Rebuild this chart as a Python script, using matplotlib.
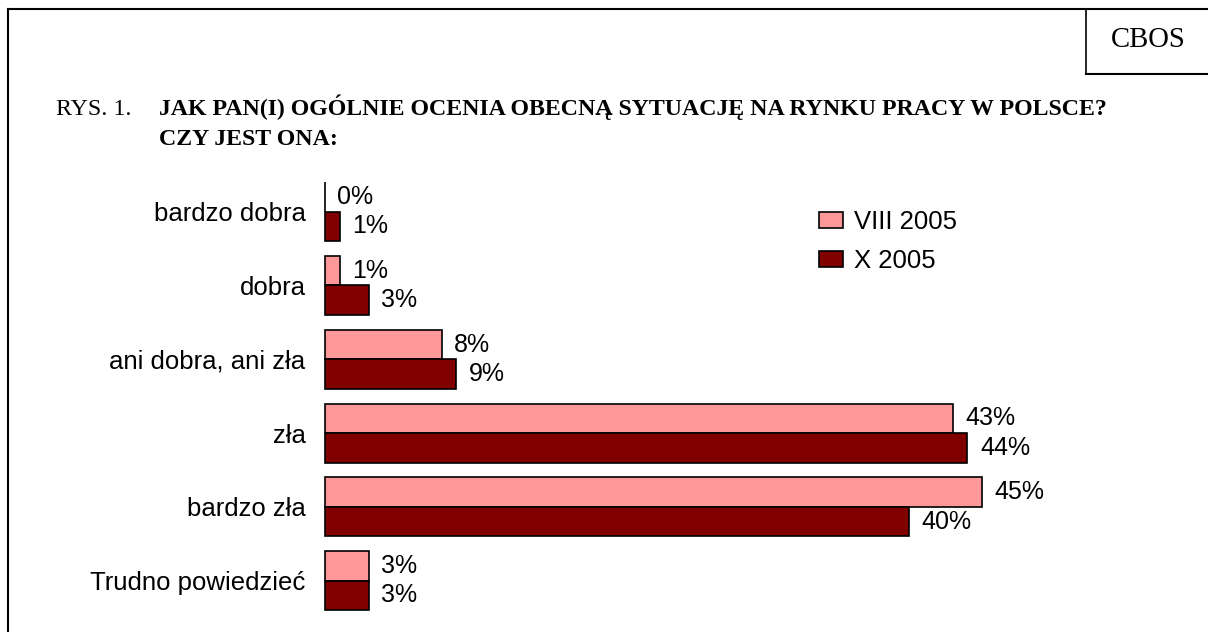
import matplotlib
matplotlib.use("Agg")
import matplotlib.pyplot as plt
from matplotlib.lines import Line2D
from matplotlib.patches import Patch
import numpy as np

categories = ["bardzo dobra", "dobra", "ani dobra, ani zła", "zła", "bardzo zła", "Trudno powiedzieć"]
viii_2005 = [0, 1, 8, 43, 45, 3]
x_2005 = [1, 3, 9, 44, 40, 3]
series_names = ["VIII 2005", "X 2005"]

SANS = "Liberation Sans"
SERIF = "Liberation Serif"
PINK = "#FF9999"
DARK = "#800000"

W, H = 1208, 632
fig = plt.figure(figsize=(W / 100, H / 100), dpi=100)

# axes placed in pixel terms: zero at x=325, 14.6 px per percent
px_per_pct = 14.6
ax_left, ax_right = 325, 1100
top_px, bot_px = 160, 632
y0_px, step_px = 211.7, 73.8
ax = fig.add_axes([ax_left / W, 0, (ax_right - ax_left) / W, (bot_px - top_px) / H])
ax.set_xlim(0, (ax_right - ax_left) / px_per_pct)
ax.set_ylim(5 + (bot_px - y0_px - 5 * step_px) / step_px, -(y0_px - top_px) / step_px)

y = np.arange(len(categories))
h = 0.4
b1 = ax.barh(y - h / 2, viii_2005, height=h, color=PINK, edgecolor="black", lw=1.2, clip_on=False)
b2 = ax.barh(y + h / 2, x_2005, height=h, color=DARK, edgecolor="black", lw=1.2, clip_on=False)

for bars, vals in ((b1, viii_2005), (b2, x_2005)):
    for bar, v in zip(bars, vals):
        ax.annotate(f"{v}%", (v, bar.get_y() + bar.get_height() / 2),
                    xytext=(9, 0), textcoords="offset points",
                    ha="left", va="center", fontsize=18, family=SANS)

ax.set_yticks(y)
ax.set_yticklabels(categories, fontsize=18.5, family=SANS)
ax.tick_params(axis="y", length=0, pad=14)
ax.set_xticks([])
for s in ax.spines.values():
    s.set_visible(False)

handles = [Patch(facecolor=PINK, edgecolor="black", lw=1.2),
           Patch(facecolor=DARK, edgecolor="black", lw=1.2)]
fig.legend(handles, series_names, loc="upper left",
           bbox_to_anchor=(819 / W, 1 - 210 / H), frameon=False,
           borderpad=0, borderaxespad=0, handlelength=0.93, handleheight=0.62,
           handletextpad=0.43, labelspacing=0.58, prop={"family": SANS, "size": 18.5})

# frame and CBOS box
lw = 1.5
fig.add_artist(Line2D([7.7 / W, 1], [1 - 9 / H, 1 - 9 / H], color="black", lw=lw))
fig.add_artist(Line2D([7.7 / W, 7.7 / W], [0, 1 - 9 / H], color="black", lw=lw))
fig.add_artist(Line2D([1086 / W, 1086 / W], [1 - 74 / H, 1 - 9 / H], color="black", lw=1.2))
fig.add_artist(Line2D([1086 / W, 1], [1 - 74 / H, 1 - 74 / H], color="black", lw=lw))
fig.text(1111 / W, 1 - 47 / H, "CBOS", ha="left", va="baseline", fontsize=20.7, family=SERIF)

# title
fig.text(56 / W, 1 - 115 / H, "RYS. 1.", ha="left", va="baseline", fontsize=17.2, family=SERIF)
fig.text(159 / W, 1 - 115 / H, "JAK PAN(I) OGÓLNIE OCENIA OBECNĄ SYTUACJĘ NA RYNKU PRACY W POLSCE?",
         ha="left", va="baseline", fontsize=17.2, family=SERIF, weight="bold")
fig.text(159 / W, 1 - 145 / H, "CZY JEST ONA:", ha="left", va="baseline",
         fontsize=17.2, family=SERIF, weight="bold")

fig.savefig("out.png", dpi=100)
